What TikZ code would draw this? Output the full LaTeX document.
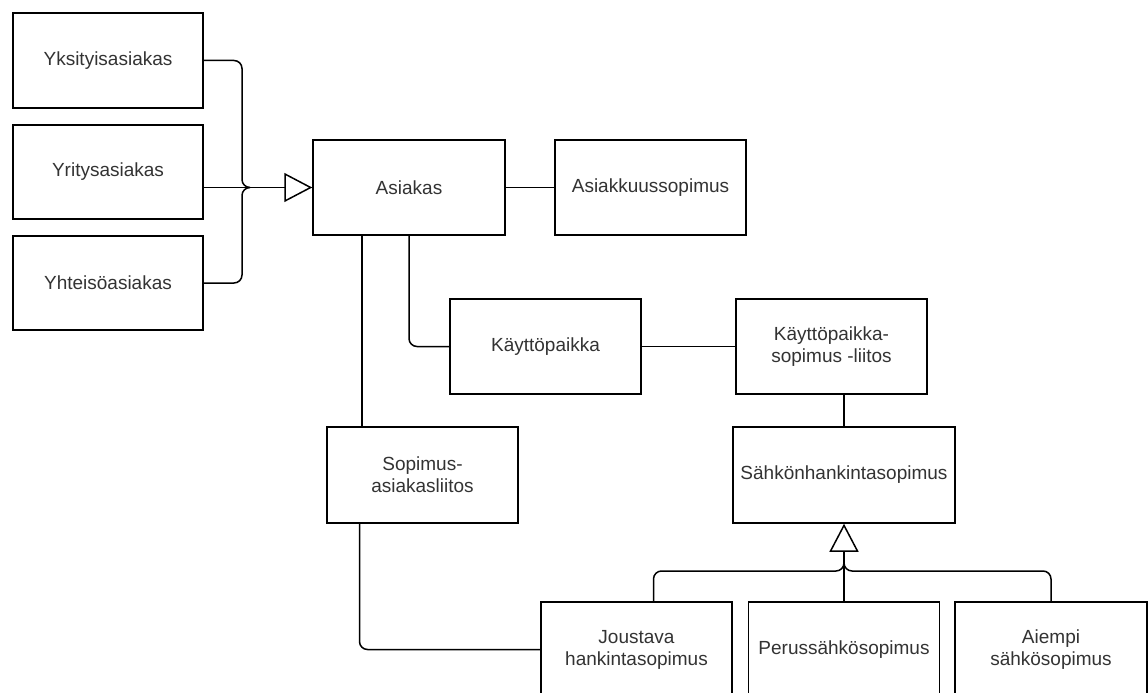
\documentclass[tikz,border=0pt]{standalone}
\usepackage{fontspec}
\setmainfont{Liberation Sans}
\usetikzlibrary{arrows.meta, positioning, calc}
\definecolor{txtgrey}{HTML}{333333}

\begin{document}
\begin{tikzpicture}[
  x=1pt, y=-1pt,
  every node/.style={font=\fontsize{19}{22}\selectfont, text=txtgrey},
  box/.style={draw, line width=1.5pt, fill=white, minimum width=191pt,
              minimum height=95pt, inner sep=2pt, align=center},
  line/.style={line width=1.5pt},
  gen/.style={line width=1.5pt, -{Triangle[open, length=28pt, width=29pt]}}
]
  \clip (0,0) rectangle (1148,693);
  % customer types
  \node[box, minimum width=190pt] (yks) at (108,60.5) {Yksityisasiakas};
  \node[box, minimum width=190pt, minimum height=94pt] (yri) at (108,172) {Yritysasiakas};
  \node[box, minimum width=190pt, minimum height=94pt] (yht) at (108,283) {Yhteisöasiakas};
  \node[box, minimum width=192pt] (asi) at (409,187.5) {Asiakas};
  \node[box] (asop) at (650.5,187.5) {Asiakkuussopimus};
  \node[box] (kp) at (545.5,346.5) {Käyttöpaikka};
  \node[box] (kpsl) at (831.5,346.5) {Käyttöpaikka-\\sopimus -liitos};
  \node[box, minimum height=96pt] (sal) at (422.5,475) {Sopimus-\\asiakasliitos};
  \node[box, minimum width=222pt, minimum height=96pt] (shs) at (844,475) {Sähkönhankintasopimus};
  % contract types
  \node[box] (jhs) at (636.5,649.5) {Joustava\\hankintasopimus};
  \node[box] (pss) at (844,649.5) {Perussähkösopimus};
  \node[box, minimum width=192pt] (ass) at (1051,649.5) {Aiempi\\sähkösopimus};

  \coordinate (gen1) at (250,187.5);
  \coordinate (gen2) at (844,571);
  \draw[line, rounded corners=8pt] (yks.east) -| ([xshift=-8pt]gen1) -- (gen1);
  \draw[line, rounded corners=8pt] (yht.east) -| ([xshift=-8pt]gen1) -- (gen1);
  \draw[gen] (yri.east |- asi.west) -- (asi.west);
  \draw[line] (asi.east) -- (asop.west);
  \draw[line, rounded corners=8pt] (asi.south) |- (kp.west);
  \draw[line] ([xshift=-47pt]asi.south) -- ([xshift=-47pt]asi.south |- sal.north);
  \draw[line, rounded corners=8pt] ([xshift=-63pt]sal.south) |- (jhs.west);
  \draw[line] (kp.east) -- (kpsl.west);
  \draw[line] (shs.north) -- (shs.north |- kpsl.south);
  \draw[gen] (pss.north) -- (shs.south);
  \draw[line, rounded corners=8pt] ([xshift=17pt]jhs.north) |- (gen2) -- ([yshift=8pt]gen2);
  \draw[line, rounded corners=8pt] (ass.north) |- (gen2) -- ([yshift=8pt]gen2);
\end{tikzpicture}
\end{document}
